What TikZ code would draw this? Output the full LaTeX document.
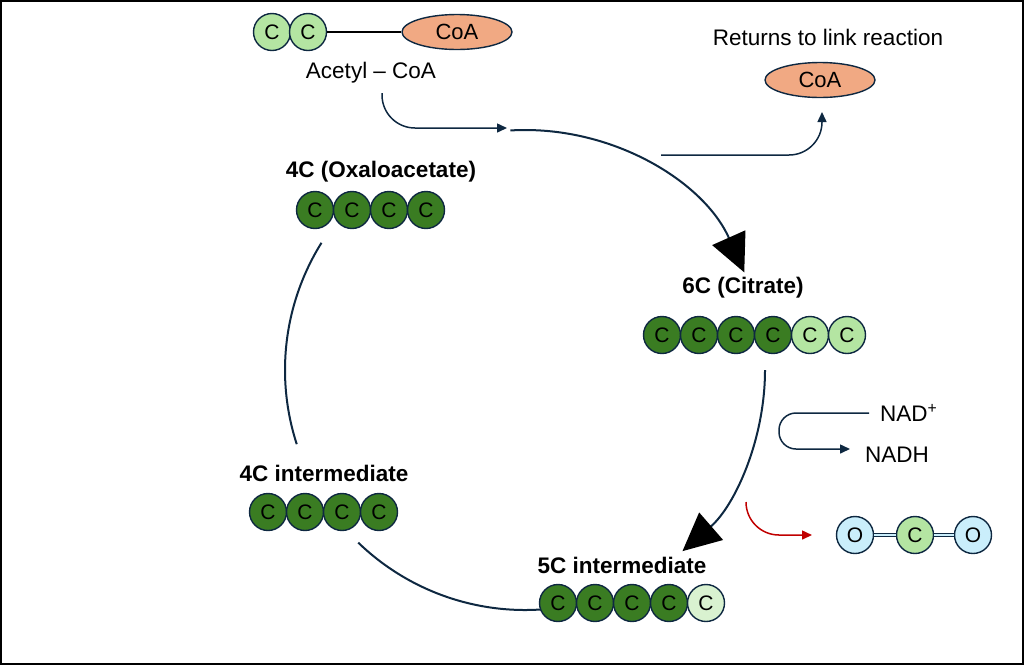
\documentclass[tikz,border=0pt]{standalone}
\usepackage{fontspec}
\setmainfont{Liberation Sans}
\usetikzlibrary{arrows.meta,shapes.geometric}
\definecolor{navy}{HTML}{0E2841}
\definecolor{cdark}{HTML}{3A7C22}
\definecolor{clight}{HTML}{B4E5A2}
\definecolor{cpale}{HTML}{D9F2D0}
\definecolor{coafill}{HTML}{F1A983}
\definecolor{oxfill}{HTML}{CAEEFB}
\definecolor{lossred}{HTML}{C00000}
\tikzset{
  atom/.style={circle,draw=navy,line width=1.4pt,minimum size=37pt,inner sep=0pt,
    font=\fontsize{21}{21}\selectfont},
  darkc/.style={atom,fill=cdark},
  lightc/.style={atom,fill=clight},
  palec/.style={atom,fill=cpale},
  oxyc/.style={atom,fill=oxfill},
  coa/.style={ellipse,draw=navy,line width=1.4pt,fill=coafill,minimum width=110pt,
    minimum height=35pt,inner sep=0pt,font=\fontsize{22}{22}\selectfont},
  txt/.style={font=\fontsize{22.5}{22.5}\selectfont,inner sep=0pt},
  title/.style={font=\fontsize{22.5}{22.5}\selectfont\bfseries,inner sep=0pt},
  ring/.style={draw=navy,line width=2pt},
  flow/.style={draw=navy,line width=1.5pt,-{Triangle[length=10pt,width=9pt]}},
  bigtip/.style={-{Triangle[length=38pt,width=36pt,color=black]}}
}
\begin{document}
\begin{tikzpicture}[x=1pt,y=-1pt]
  \useasboundingbox (0,0) rectangle (1024,665);
  \draw[line width=1.5pt] (1,1) rectangle (1023,664);

  % the cycle
  \coordinate (ctr) at (525,370);
  \coordinate (top-a) at ([shift={(-93.5:240)}]ctr);
  \coordinate (right-a) at ([shift={(0:240)}]ctr);
  \coordinate (bottom-a) at ([shift={(86:240)}]ctr);
  \coordinate (left-a) at ([shift={(162:240)}]ctr);
  \draw[ring,bigtip] (top-a) arc[start angle=-93.5,end angle=-24,radius=240];
  \draw[ring,bigtip] (right-a) arc[start angle=0,end angle=49,radius=240];
  \draw[ring] (bottom-a) arc[start angle=86,end angle=134,radius=240];
  \draw[ring] (left-a) arc[start angle=162,end angle=212,radius=240];

  % acetyl-CoA
  \node[lightc] (ac-1) at (272,32) {C};
  \node[lightc] (ac-2) at (308,32) {C};
  \node[coa] (coa-in) at (457,32) {CoA};
  \draw[line width=1.8pt] (ac-2) -- (coa-in);
  \node[txt] (acetyl) at (371,73) {Acetyl -- CoA};
  \coordinate (acetyl-out) at (382,93);
  \coordinate (acetyl-in) at (507,128);
  \draw[flow,rounded corners=33pt] (acetyl-out) |- (acetyl-in);

  % CoA back
  \node[txt] (returns) at (828,37) {Returns to link reaction};
  \node[coa] (coa-out) at (820,80) {CoA};
  \coordinate (coa-from) at (661,155);
  \coordinate (coa-to) at (822,112);
  \draw[flow,rounded corners=33pt] (coa-from) -| (coa-to);

  % 4C oxaloacetate
  \node[title] (oxa) at (381,172) {4C (Oxaloacetate)};
  \node[darkc] (oxa-1) at (315,210) {C};
  \node[darkc] (oxa-2) at (352,210) {C};
  \node[darkc] (oxa-3) at (389,210) {C};
  \node[darkc] (oxa-4) at (426,210) {C};

  % 6C citrate
  \node[title] (cit) at (743,288) {6C (Citrate)};
  \node[darkc] (cit-1) at (662,335) {C};
  \node[darkc] (cit-2) at (699,335) {C};
  \node[darkc] (cit-3) at (736,335) {C};
  \node[darkc] (cit-4) at (773,335) {C};
  \node[lightc] (cit-5) at (810,335) {C};
  \node[lightc] (cit-6) at (847,335) {C};

  % NAD+ / NADH
  \node[txt,anchor=west] (nadp) at (880,413) {NAD\textsuperscript{+}};
  \node[txt,anchor=west] (nadh) at (865,455) {NADH};
  \draw[flow,rounded corners=17pt] ([xshift=-11pt]nadp.west) -- ++(-90,0) |- ([xshift=-15pt,yshift=6pt]nadh.west);

  % CO2 leaves
  \node[oxyc] (co2-o1) at (855,535) {O};
  \node[lightc] (co2-c) at (915,535) {C};
  \node[oxyc] (co2-o2) at (973,535) {O};
  \draw[draw=navy,double=oxfill,double distance=2.5pt,line width=1.2pt] (co2-o1) -- (co2-c);
  \draw[draw=navy,double=oxfill,double distance=2.5pt,line width=1.2pt] (co2-c) -- (co2-o2);
  \coordinate (co2-from) at (746,502);
  \coordinate (co2-to) at (812,535);
  \draw[flow,draw=lossred,rounded corners=33pt] (co2-from) |- (co2-to);

  % 5C intermediate
  \node[title] (five) at (622,565) {5C intermediate};
  \node[darkc] (five-1) at (558,603) {C};
  \node[darkc] (five-2) at (595,603) {C};
  \node[darkc] (five-3) at (632,603) {C};
  \node[darkc] (five-4) at (669,603) {C};
  \node[palec] (five-5) at (706,603) {C};

  % 4C intermediate
  \node[title] (four) at (324,473) {4C intermediate};
  \node[darkc] (four-1) at (268,512) {C};
  \node[darkc] (four-2) at (305,512) {C};
  \node[darkc] (four-3) at (342,512) {C};
  \node[darkc] (four-4) at (379,512) {C};
\end{tikzpicture}
\end{document}
